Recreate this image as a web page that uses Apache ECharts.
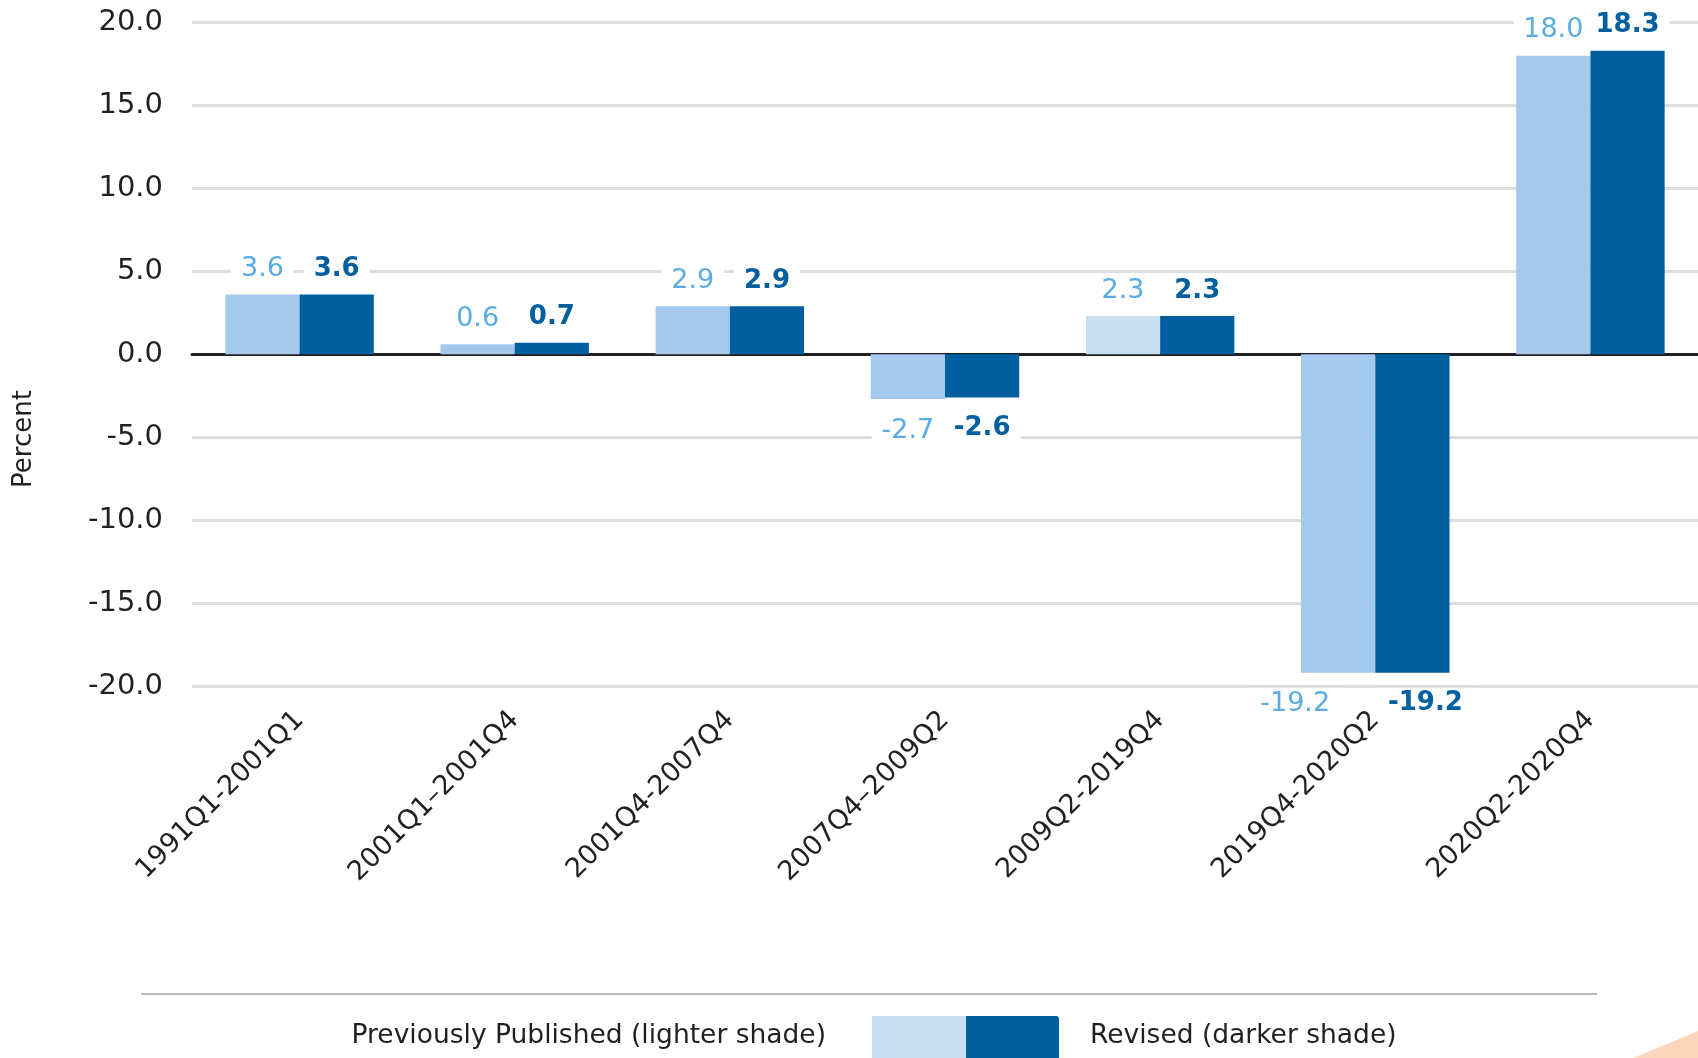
<!DOCTYPE html>
<html>
<head>
<meta charset="utf-8">
<script src="https://cdn.jsdelivr.net/npm/echarts@6/dist/echarts.min.js"></script>
<style>
    html, body { margin: 0; padding: 0; background: #ffffff; }
    #chart { width: 1698px; height: 1058px; }
</style>
</head>
<body>
<div id="chart"></div>
<script>
// 数据
const categories = ['1991Q1-2001Q1', '2001Q1–2001Q4', '2001Q4-2007Q4', '2007Q4–2009Q2', '2009Q2-2019Q4', '2019Q4-2020Q2', '2020Q2-2020Q4'];
const previousValues = [3.6, 0.6, 2.9, -2.7, 2.3, -19.2, 18.0];
const revisedValues = [3.6, 0.7, 2.9, -2.6, 2.3, -19.2, 18.3];
const seriesNames = ['Previously Published (lighter shade)', 'Revised (darker shade)'];

const FONT = 'DejaVu Sans';
const LIGHT = '#a4c9ec';
const LIGHTER = '#c8dff2';
const DARK = '#00609f';

renderChart();

//组装柱子数据, 负值标签放在下方
function buildData(values, colorFn, deepShift) {
    return values.map(function (v, i) {
        let item = {
            value: v,
            label: {
                position: v < 0 ? 'bottom' : 'top',
                distance: v < 0 ? 15 : 9
            }
        };
        // 最深的柱子标签左右错开
        if (v < -10) {
            item.label.offset = [deepShift, 0];
        }
        let c = colorFn(i);
        if (c) {
            item.itemStyle = {color: c};
        }
        return item;
    });
}

function renderChart() {
    let chart = echarts.init(document.getElementById('chart'), null, {renderer: 'canvas'});

    let option = {
        backgroundColor: '#ffffff',
        animation: false,
        grid: {
            left: 192,
            right: 0,
            top: 22.5,
            bottom: 372,
            containLabel: false,
            outerBoundsMode: 'none'
        },
        xAxis: {
            type: 'category',
            data: categories,
            axisTick: {show: false},
            axisLine: {
                show: true,
                onZero: true,
                lineStyle: {color: '#231f20', width: 3}
            },
            axisLabel: {
                interval: 0,
                rotate: 45,
                margin: 30,
                fontFamily: FONT,
                fontSize: 27,
                color: '#231f20'
            }
        },
        yAxis: {
            type: 'value',
            min: -20,
            max: 20,
            interval: 5,
            axisLine: {show: false},
            axisTick: {show: false},
            axisLabel: {
                margin: 29,
                fontFamily: FONT,
                fontSize: 29,
                color: '#231f20',
                formatter: function (v) { return v.toFixed(1); }
            },
            splitLine: {
                lineStyle: {color: '#dcdddd', width: 3}
            }
        },
        series: [{
            name: seriesNames[0],
            type: 'bar',
            barGap: '0%',
            barCategoryGap: '31%',
            itemStyle: {color: LIGHT},
            data: buildData(previousValues, function (i) { return i === 4 ? LIGHTER : null; }, -43),
            label: {
                show: true,
                fontFamily: FONT,
                fontSize: 27,
                color: '#5aace2',
                backgroundColor: '#ffffff',
                padding: [3, 10],
                formatter: function (p) { return p.value.toFixed(1); }
            }
        }, {
            name: seriesNames[1],
            type: 'bar',
            barGap: '0%',
            barCategoryGap: '31%',
            itemStyle: {color: DARK},
            data: buildData(revisedValues, function () { return null; }, 13),
            label: {
                show: true,
                fontFamily: FONT,
                fontSize: 26,
                fontWeight: 'bold',
                color: DARK,
                backgroundColor: '#ffffff',
                padding: [3, 10],
                formatter: function (p) { return p.value.toFixed(1); }
            }
        }],
        graphic: [
            // 纵轴标题
            {
                type: 'text',
                x: 24,
                y: 439,
                rotation: Math.PI / 2,
                style: {
                    text: 'Percent',
                    fontFamily: FONT,
                    fontSize: 26,
                    fill: '#231f20',
                    align: 'center',
                    verticalAlign: 'middle'
                }
            },
            // 图例上方分隔线
            {
                type: 'line',
                shape: {x1: 141, y1: 994, x2: 1597, y2: 994},
                style: {stroke: '#b8b8b8', lineWidth: 2}
            },
            {
                type: 'text',
                x: 826,
                y: 1036,
                style: {
                    text: seriesNames[0],
                    fontFamily: FONT,
                    fontSize: 26.5,
                    fill: '#231f20',
                    align: 'right',
                    verticalAlign: 'middle'
                }
            },
            {
                type: 'rect',
                shape: {x: 872, y: 1016, width: 94, height: 50},
                style: {fill: LIGHTER}
            },
            {
                type: 'rect',
                shape: {x: 966, y: 1016, width: 93, height: 50, r: [0, 3, 0, 0]},
                style: {fill: DARK}
            },
            {
                type: 'text',
                x: 1090,
                y: 1036,
                style: {
                    text: seriesNames[1],
                    fontFamily: FONT,
                    fontSize: 26.5,
                    fill: '#231f20',
                    align: 'left',
                    verticalAlign: 'middle'
                }
            },
            // 右下角装饰
            {
                type: 'polygon',
                shape: {points: [[1633, 1058], [1698, 1031], [1698, 1058]]},
                style: {fill: '#fbd6bd'}
            }
        ]
    };

    chart.setOption(option);
}
</script>
</body>
</html>
